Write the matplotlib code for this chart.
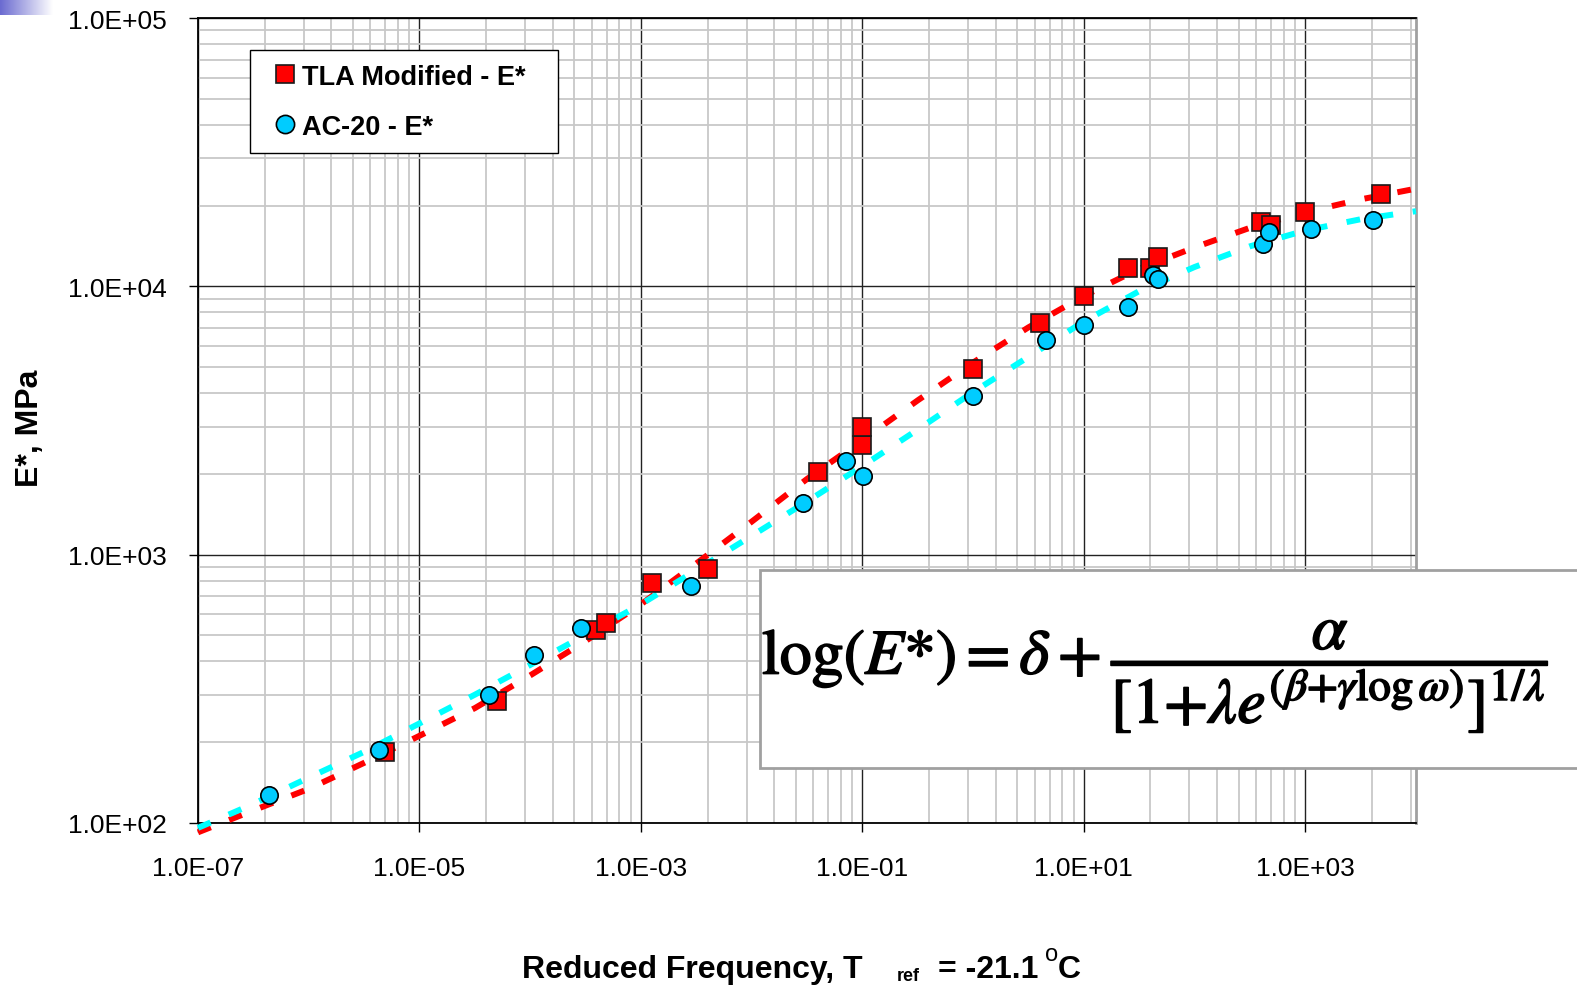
import numpy as np
import matplotlib
matplotlib.use("Agg")
import matplotlib.pyplot as plt
import matplotlib.patheffects as pe
from matplotlib.ticker import FixedLocator, FuncFormatter
from matplotlib.patches import Rectangle
from matplotlib.colors import LinearSegmentedColormap

plt.rcParams['font.family'] = ['Liberation Sans', 'DejaVu Sans']
plt.rcParams['mathtext.fontset'] = 'stix'

# ------------------------------------------------------------------
# Measured dynamic modulus |E*| (MPa) vs reduced frequency (Hz)
# ------------------------------------------------------------------
tla_freq = [4.9e-6, 5.0e-5, 3.9e-4, 4.85e-4, 1.26e-3, 4.0e-3, 0.0394, 0.1, 0.1,
            0.99, 3.98, 10.0, 25.0, 39.5, 47.0, 395, 493, 988, 4800]
tla_modulus = [184, 285, 523, 555, 783, 888, 2025, 2567, 2996,
               4917, 7280, 9230, 11670, 11670, 12830, 17400, 16930, 18880, 22080]

ac20_freq = [4.4e-7, 4.34e-6, 4.29e-5, 1.09e-4, 2.88e-4, 2.83e-3, 0.0291, 0.0716, 0.1014,
             0.993, 4.6, 10.1, 25.0, 42.4, 47.0, 415, 470, 1135, 4090]
ac20_modulus = [127, 187, 299, 422, 532, 761, 1556, 2226, 1967,
                3910, 6320, 7173, 8395, 11020, 10640, 14380, 15890, 16360, 17720]

# Sigmoidal master curves (fitted), sampled every half decade
curve_freq = [1e-7, 3.16e-7, 1e-6, 3.16e-6, 1e-5, 3.16e-5, 1e-4, 3.16e-4, 1e-3, 3.16e-3,
              1e-2, 3.16e-2, 0.1, 0.316, 1.0, 3.16, 10.0, 31.6, 100.0, 316.0,
              1000.0, 3160.0, 10000.0]
tla_curve = [92.3, 111.4, 134.0, 167.5, 211.3, 267.9, 354.8, 476.4, 653.1, 926.8,
             1327, 1914, 2673, 3758, 5200, 7031, 9204, 11614, 13964, 16520,
             18880, 21090, 23120]
ac20_curve = [95.9, 117.8, 147.6, 184.1, 235.0, 300.6, 388.1, 502.3, 653.1, 875.0,
              1175, 1578, 2138, 2924, 4036, 5458, 7396, 9594, 11803, 14093,
              16144, 17783, 19055]

x_ticks = [1e-7, 1e-5, 1e-3, 1e-1, 1e1, 1e3]
y_ticks = [1e2, 1e3, 1e4, 1e5]

W, H = 1577, 987


def px(x, y):
    """pixel position -> figure fraction"""
    return x / W, 1 - y / H


fig = plt.figure(figsize=(W / 100, H / 100), dpi=100)
ax = fig.add_axes([198 / W, 1 - 824 / H, (1416 - 198) / W, (824 - 19) / H])

ax.set_xscale('log')
ax.set_yscale('log')
ax.set_xlim(1e-7, 1e4)
ax.set_ylim(1e2, 1e5)

# x axis uses base-100 majors, so the minor lines fall at k^2 within each major step
x_minor = [m * k * k for m in x_ticks for k in range(2, 10) if m * k * k < 1e4]
y_minor = [m * k for m in y_ticks[:-1] for k in range(2, 10)]

ax.xaxis.set_major_locator(FixedLocator(x_ticks))
ax.xaxis.set_minor_locator(FixedLocator(x_minor))
ax.yaxis.set_major_locator(FixedLocator(y_ticks))
ax.yaxis.set_minor_locator(FixedLocator(y_minor))

sci = FuncFormatter(lambda v, pos: f"{v:.1E}")
ax.xaxis.set_major_formatter(sci)
ax.yaxis.set_major_formatter(sci)

ax.grid(which='minor', color='#c8c8c8', linewidth=1.3)
ax.grid(which='major', color='#222222', linewidth=1.0)
ax.set_axisbelow(True)

ax.tick_params(which='minor', length=0)
ax.tick_params(which='major', direction='out', length=6.5, width=1.0, color='black',
               labelsize=19)
ax.tick_params(axis='y', pad=16)
ax.tick_params(axis='x', pad=17)

for side in ('left', 'bottom', 'top'):
    ax.spines[side].set_color('black')
    ax.spines[side].set_linewidth(1.3)
ax.spines['right'].set_color('#a0a0a0')
ax.spines['right'].set_linewidth(2)

# fitted curves (the red one dips just under the 100 MPa floor at the left edge)
ax.plot(curve_freq, tla_curve, color='#ff0000', lw=4.3, dashes=(2.3, 3.3),
        dash_capstyle='butt', zorder=3, clip_on=False)
ax.plot(curve_freq, ac20_curve, color='#00ffff', lw=4.3, dashes=(2.3, 3.3),
        dash_capstyle='butt', zorder=3, clip_on=False)

# measured points
ax.plot(tla_freq, tla_modulus, linestyle='none', marker='s', markersize=12.5,
        markerfacecolor='#ff0000', markeredgecolor='#1a1a1a', markeredgewidth=1.2,
        label='TLA Modified - E*', zorder=4)
ax.plot(ac20_freq, ac20_modulus, linestyle='none', marker='o', markersize=12.5,
        markerfacecolor='#00ccff', markeredgecolor='black', markeredgewidth=1.2,
        label='AC-20 - E*', zorder=5)

leg_x, leg_y = px(250, 151)
leg = ax.legend(loc='upper left', bbox_to_anchor=(leg_x, leg_y, 308 / W, 100 / H),
                bbox_transform=fig.transFigure, mode='expand', borderaxespad=0,
                frameon=True, fancybox=False, framealpha=1, edgecolor='black',
                prop={'weight': 'bold', 'size': 19.5}, handlelength=1.59,
                handletextpad=-0.17, labelspacing=0.9, borderpad=0.5,
                markerscale=1.05)
leg.get_frame().set_linewidth(1.0)
leg.set_zorder(6)

# axis titles
fig.text(*px(30, 428), 'E*, MPa', rotation=90, ha='center', va='center',
         fontsize=23, fontweight='bold')
fig.text(*px(522, 978), 'Reduced Frequency, T', ha='left', va='baseline',
         fontsize=23, fontweight='bold')
fig.text(*px(897, 981), 'ref', ha='left', va='baseline', fontsize=13, fontweight='bold')
fig.text(*px(938, 978), '= -21.1', ha='left', va='baseline', fontsize=23, fontweight='bold')
fig.text(*px(1045, 961), 'o', ha='left', va='baseline', fontsize=17)
fig.text(*px(1058, 978), 'C', ha='left', va='baseline', fontsize=23, fontweight='bold')

# sigmoidal model box
box_x, box_y = px(760, 769)
fig.patches.append(Rectangle((box_x, box_y), 1 - box_x + 0.05, (769 - 571) / H,
                             transform=fig.transFigure, facecolor='white',
                             edgecolor='#a0a0a0', linewidth=2, zorder=7))
eq = fig.text(*px(762, 677),
              r'$\mathrm{log}(E{*}) = \delta + '
              r'\dfrac{\alpha}{\left[1{+}\lambda e^{(\beta{+}\gamma\mathrm{log}\,\omega)}\right]^{1/\lambda}}$',
              ha='left', va='center', fontsize=46, zorder=8)
eq.set_path_effects([pe.withStroke(linewidth=1.2, foreground='black')])

# slide bullet strip in the top-left corner
strip = fig.add_axes([0, 1 - 16 / H, 53 / W, 16 / H])
grad = np.linspace(0, 1, 256).reshape(1, -1)
strip.imshow(grad, aspect='auto',
             cmap=LinearSegmentedColormap.from_list('fade', ['#6a6ad0', '#ffffff']))
strip.set_axis_off()

fig.savefig('out.png', dpi=100)
